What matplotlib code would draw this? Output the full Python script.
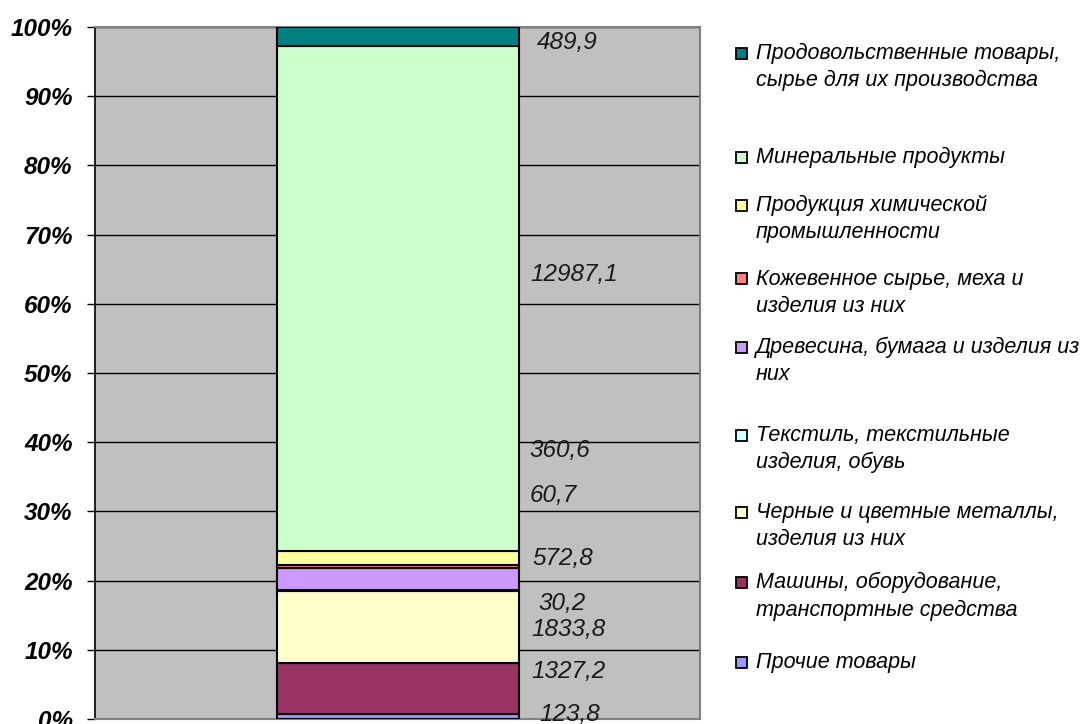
import matplotlib
matplotlib.use("Agg")
import matplotlib.pyplot as plt
from matplotlib.patches import Rectangle
from matplotlib.ticker import PercentFormatter

# Data (bottom to top of the stack)
categories = [
    "Прочие товары",
    "Машины, оборудование,\nтранспортные средства",
    "Черные и цветные металлы,\nизделия из них",
    "Текстиль, текстильные\nизделия, обувь",
    "Древесина, бумага и изделия из\nних",
    "Кожевенное сырье, меха и\nизделия из них",
    "Продукция химической\nпромышленности",
    "Минеральные продукты",
    "Продовольственные товары,\nсырье для их производства",
]
values = [123.8, 1327.2, 1833.8, 30.2, 572.8, 60.7, 360.6, 12987.1, 489.9]
value_labels = ["123,8", "1327,2", "1833,8", "30,2", "572,8", "60,7", "360,6", "12987,1", "489,9"]
colors = ["#9999FF", "#993366", "#FFFFCC", "#CCFFFF", "#CC99FF", "#FF8080",
          "#FFFF99", "#CCFFCC", "#008080"]

# label placement (styling only): percent heights and pixel centres as in original
label_y = [0.6, 6.8, 12.9, 16.7, 23.2, 32.3, 38.8, 64.2, 97.8]
label_px = [570, 569, 568, 562, 563, 553, 560, 574, 567]
# legend placement (pixel y of first line centre)
legend_y = [662, 582, 512, 435, 347, 279, 205, 157, 53]

W, H = 1090, 724
fig = plt.figure(figsize=(W / 100, H / 100), dpi=100)
plt.rcParams['font.family'] = ['Liberation Sans', 'DejaVu Sans']

AX_L, AX_R = 95, 700
ax = fig.add_axes([AX_L / W, 1 - 719 / H, (AX_R - AX_L) / W, 692 / H])
ax.set_facecolor("#C0C0C0")

total = sum(values)
bottom = 0.0
for v, c in zip(values, colors):
    pct = v / total * 100
    ax.bar(0, pct, bottom=bottom, width=1.0, color=c, edgecolor="black",
           linewidth=1.5, zorder=3)
    bottom += pct

XL, XR = -1.25, 1.25
for lab, ly, px in zip(value_labels, label_y, label_px):
    lx = XL + (px - AX_L) / (AX_R - AX_L) * (XR - XL)
    ax.text(lx, ly, lab, fontsize=17.5, style="italic", va="center", ha="center",
            color="#1a1a1a", zorder=4)

ax.set_xlim(XL, XR)
ax.set_ylim(0, 100)
ax.set_yticks(range(0, 101, 10))
ax.yaxis.set_major_formatter(PercentFormatter(decimals=0))
for t in ax.get_yticklabels():
    t.set_fontweight("bold")
    t.set_fontstyle("italic")
    t.set_fontsize(17.5)
ax.tick_params(axis="y", direction="out", length=6, width=1, pad=10, colors="black")
ax.set_xticks([])
ax.yaxis.grid(True, color="black", linewidth=1, zorder=1)
ax.set_axisbelow(True)
for s in ["top", "right", "bottom"]:
    ax.spines[s].set_color("#808080")
    ax.spines[s].set_linewidth(1.5)
ax.spines["left"].set_color("black")
ax.spines["left"].set_linewidth(1.2)

# Legend drawn manually
for lab, c, py in zip(categories, colors, legend_y):
    sq = 11
    fig.patches.append(Rectangle((736 / W, 1 - (py + sq / 2) / H), sq / W, sq / H,
                                 transform=fig.transFigure, facecolor=c,
                                 edgecolor="black", linewidth=1.3))
    fig.text(756 / W, 1 - (py - 10) / H, lab, fontsize=15.5, style="italic",
             va="top", ha="left", linespacing=1.38, color="black")

fig.savefig("out.png", dpi=100, facecolor="white")
